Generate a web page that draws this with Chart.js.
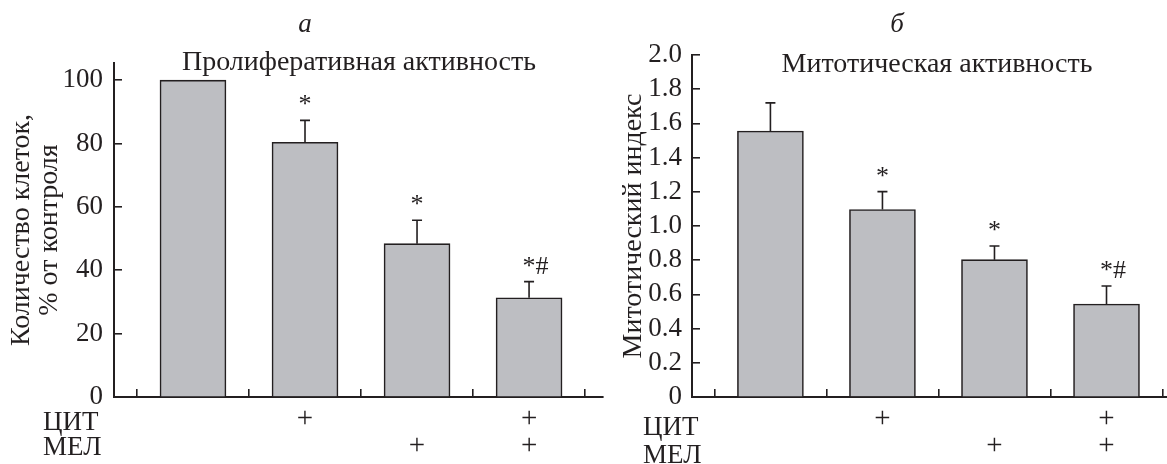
<!DOCTYPE html>
<html>
<head>
<meta charset="utf-8">
<script src="https://cdn.jsdelivr.net/npm/chart.js@4.4.1/dist/chart.umd.min.js"></script>
<style>
  html, body { margin: 0; padding: 0; background: #fff; }
  #wrap { position: relative; width: 1167px; height: 464px; overflow: hidden; }
  #leftBox { position: absolute; left: 0; top: 0; width: 610px; height: 464px; }
  #rightBox { position: absolute; left: 610px; top: 0; width: 557px; height: 464px; }
</style>
</head>
<body>
<div id="wrap">
  <div id="leftBox"><canvas id="prolifChart" width="610" height="464"></canvas></div>
  <div id="rightBox"><canvas id="mitoChart" width="557" height="464"></canvas></div>
</div>
<script>
// --- данные ---
const groups = ['Контроль', 'ЦИТ', 'МЕЛ', 'ЦИТ + МЕЛ'];
const groupPos = [0, 1, 2, 3];
const citRow = ['', '+', '', '+'];
const melRow = ['', '', '+', '+'];
const signMarks = ['', '*', '*', '*#'];

const prolifMean = [100, 80.4, 48.4, 31.3];
const prolifErr = [0, 6.9, 7.4, 5.1];
const prolifTicks = [0, 20, 40, 60, 80, 100];

const mitoMean = [1.555, 1.096, 0.803, 0.544];
const mitoErr = [0.165, 0.105, 0.08, 0.105];
const mitoTicks = [0, 0.2, 0.4, 0.6, 0.8, 1.0, 1.2, 1.4, 1.6, 1.8, 2.0];

const INK = '#231f20';
const BAR_FILL = '#bdbec2';
const SERIF = "'Liberation Serif', 'Times New Roman', serif";

// error bars, significance marks, row captions, panel titles
const annotatePlugin = {
    id: 'annotate',
    afterDatasetsDraw(chart, args, opts) {
        const ctx = chart.ctx;
        const xs = chart.scales.x;
        const ys = chart.scales.y;
        ctx.save();
        ctx.strokeStyle = INK;
        ctx.lineWidth = 1.6;
        ctx.fillStyle = INK;
        ctx.font = '26px ' + SERIF;
        ctx.textBaseline = 'alphabetic';
        const starW = ctx.measureText('*').width;
        opts.mean.forEach((m, i) => {
            const px = xs.getPixelForValue(groupPos[i]);
            const yBase = ys.getPixelForValue(m);
            const yTop = ys.getPixelForValue(m + opts.err[i]);
            if (opts.err[i] > 0) {
                ctx.beginPath();
                ctx.moveTo(px, yBase);
                ctx.lineTo(px, yTop);
                ctx.moveTo(px - 5, yTop);
                ctx.lineTo(px + 5, yTop);
                ctx.stroke();
            }
            if (signMarks[i]) {
                ctx.textAlign = 'left';
                ctx.fillText(signMarks[i], px - starW / 2, yTop - 8);
            }
        });
        ctx.restore();
    },
    afterDraw(chart, args, opts) {
        const ctx = chart.ctx;
        ctx.save();
        ctx.fillStyle = INK;
        ctx.textBaseline = 'alphabetic';

        ctx.font = '27px ' + SERIF;
        ctx.textAlign = 'left';
        ctx.fillText('ЦИТ', opts.rowX, opts.rowY[0]);
        ctx.fillText('МЕЛ', opts.rowX, opts.rowY[1]);

        ctx.textAlign = 'center';
        ctx.textBaseline = 'middle';
        ctx.font = 'italic 27px ' + SERIF;
        ctx.fillText(opts.letter, opts.letterX, 25);

        ctx.textBaseline = 'alphabetic';
        ctx.font = '28px ' + SERIF;
        ctx.fillText(opts.title, opts.titleX, opts.titleY);
        ctx.restore();
    }
};

function makePanel(canvasId, p) {
    const points = groupPos.map((x, i) => ({ x: x, y: p.mean[i] }));
    return new Chart(document.getElementById(canvasId), {
        type: 'bar',
        data: {
            datasets: [{
                label: p.title,
                data: points,
                backgroundColor: BAR_FILL,
                borderColor: INK,
                borderWidth: 1.6,
                barThickness: 66
            }]
        },
        options: {
            responsive: false,
            animation: false,
            devicePixelRatio: 1,
            layout: { padding: { left: 0, right: p.padRight, top: p.padTop, bottom: 0 } },
            plugins: {
                legend: { display: false },
                tooltip: { enabled: false },
                annotate: {
                    mean: p.mean, err: p.err,
                    rowX: p.rowX, rowY: p.rowY,
                    letter: p.letter, letterX: p.letterX,
                    title: p.title, titleX: p.titleX, titleY: p.titleY
                }
            },
            scales: {
                x: {
                    type: 'linear',
                    offset: false,
                    min: p.xMin,
                    max: p.xMax,
                    z: 1,
                    afterBuildTicks: (s) => { s.ticks = groupPos.map(v => ({ value: v })); },
                    afterFit: (s) => { s.height = 67; },
                    grid: { drawOnChartArea: false, drawTicks: true, tickLength: -8, color: INK, lineWidth: 1.6 },
                    border: { display: true, color: INK, width: 2 },
                    ticks: {
                        autoSkip: false,
                        maxRotation: 0,
                        padding: 17,
                        color: INK,
                        font: { family: SERIF, size: 29, lineHeight: '27px' },
                        callback: (v, i) => [citRow[i], melRow[i]]
                    }
                },
                y: {
                    min: 0,
                    max: p.yMax,
                    afterBuildTicks: (s) => { s.ticks = p.yTicks.map(v => ({ value: v })); },
                    afterFit: (s) => { s.width = p.yWidth; },
                    grid: { drawOnChartArea: false, drawTicks: true, tickLength: -8, color: INK, lineWidth: 1.6 },
                    border: { display: true, color: INK, width: 2 },
                    ticks: {
                        autoSkip: false,
                        padding: p.tickPad,
                        color: INK,
                        font: { family: SERIF, size: 27 },
                        callback: p.fmt
                    },
                    title: {
                        display: true,
                        text: p.yTitle,
                        color: INK,
                        padding: { top: p.titlePad, bottom: 0 },
                        font: { family: SERIF, size: 28, lineHeight: '28px' }
                    }
                }
            }
        },
        plugins: [annotatePlugin]
    });
}

makePanel('prolifChart', {
    mean: prolifMean, err: prolifErr, yTicks: prolifTicks, yMax: 105.4,
    fmt: (v) => String(v),
    yTitle: ['Количество клеток,', '% от контроля'],
    yWidth: 114, tickPad: 19, titlePad: 8,
    padTop: 63, padRight: 7,
    xMin: -0.705, xMax: 3.66,
    rowX: 43, rowY: [430, 455],
    letter: 'а', letterX: 305,
    title: 'Пролиферативная активность', titleX: 359, titleY: 70
});

makePanel('mitoChart', {
    mean: mitoMean, err: mitoErr, yTicks: mitoTicks, yMax: 2.0,
    fmt: (v) => (v === 0 ? '0' : v.toFixed(1)),
    yTitle: 'Митотический индекс',
    yWidth: 82, tickPad: 18, titlePad: 10,
    padTop: 55, padRight: 0,
    xMin: -0.70, xMax: 3.54,
    rowX: 33, rowY: [435, 463],
    letter: 'б', letterX: 287,
    title: 'Митотическая активность', titleX: 937 - 610, titleY: 72
});
</script>
</body>
</html>
